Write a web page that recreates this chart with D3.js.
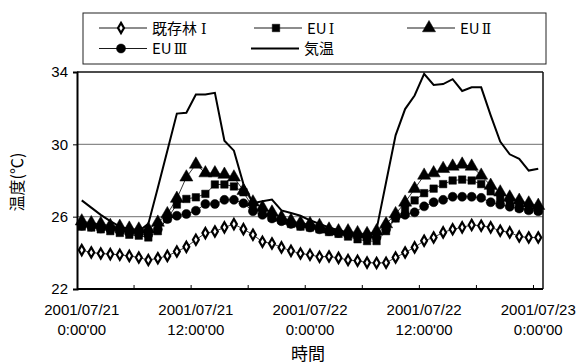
<!DOCTYPE html>
<html><head><meta charset="utf-8">
<script src="https://cdnjs.cloudflare.com/ajax/libs/d3/7.8.5/d3.min.js"></script>
<style>body{margin:0;background:#fff}svg{display:block}text{font-family:"Noto Sans CJK JP","Liberation Sans",sans-serif;fill:#000}</style>
</head><body><svg id="c" width="583" height="364"></svg>
<script>
const hours = [0,1,2,3,4,5,6,7,8,9,10,11,12,13,14,15,16,17,18,19,20,21,22,23,24,25,26,27,28,29,30,31,32,33,34,35,36,37,38,39,40,41,42,43,44,45,46,47,48];
const tickIndex = [0,12,24,36,48];
const tickDates = ["2001/07/21","2001/07/21","2001/07/22","2001/07/22","2001/07/23"];
const tickTimes = ["0:00'00","12:00'00","0:00'00","12:00'00","0:00'00"];
const yTicks = [22,26,30,34];
const kisonrin = [24.15,24.02,23.96,23.93,23.89,23.83,23.74,23.6,23.7,23.83,24.07,24.33,24.72,25.09,25.18,25.41,25.59,25.31,25.0,24.61,24.52,24.3,24.11,23.96,23.89,23.78,23.8,23.72,23.6,23.56,23.46,23.44,23.45,23.74,24.02,24.3,24.67,24.85,25.13,25.3,25.41,25.54,25.5,25.41,25.22,25.13,24.9,24.85,24.85];
const eu1 = [25.45,25.4,25.3,25.2,25.1,25.0,24.95,24.85,25.2,25.9,26.67,26.98,27.07,27.26,27.78,27.78,27.67,27.35,26.52,26.2,25.95,25.8,25.6,25.45,25.4,25.3,25.15,25.05,24.9,24.75,24.65,24.65,25.2,25.9,26.4,26.9,27.3,27.55,27.8,28.0,28.05,28.0,27.8,27.4,27.0,26.7,26.5,26.4,26.35];
const eu2 = [25.75,25.65,25.6,25.5,25.45,25.35,25.3,25.3,25.68,26.15,27.0,28.18,28.89,28.41,28.41,28.33,28.18,27.44,26.8,26.5,26.24,25.96,25.78,25.65,25.6,25.5,25.3,25.2,25.2,25.1,25.05,25.2,25.59,26.15,26.79,27.54,28.28,28.41,28.65,28.78,28.89,28.78,28.28,27.72,27.35,27.07,26.89,26.74,26.61];
const eu3 = [25.5,25.45,25.35,25.3,25.2,25.1,25.05,25.0,25.3,25.87,26.05,26.15,26.33,26.7,26.7,26.93,26.93,26.74,26.3,26.1,25.9,25.75,25.6,25.5,25.4,25.3,25.2,25.1,25.0,24.95,24.85,24.85,25.3,25.96,26.1,26.24,26.57,26.8,26.93,27.1,27.1,27.1,27.04,26.8,26.67,26.55,26.45,26.35,26.3];
const airTemp = [26.9,26.5,26.1,25.75,25.45,25.3,25.2,25.6,27.6,29.65,31.7,31.75,32.75,32.75,32.85,30.2,29.65,27.8,26.75,26.85,26.95,26.35,26.2,26.05,25.8,25.6,25.4,25.25,25.1,24.95,24.85,25.3,27.9,30.5,31.95,32.7,33.9,33.28,33.33,33.6,32.95,33.15,33.15,31.6,30.15,29.45,29.2,28.55,28.65];
const seriesBase = ["既存林","EU","EU","EU","気温"];
const seriesNum = ["Ⅰ","Ⅰ","Ⅱ","Ⅲ",""];

const svg = d3.select("#c");
const L=77,R=543,T=72,B=289;
const x = d3.scaleBand().domain(hours).range([L,R]);
const cx = h => x(h)+x.bandwidth()/2;
const y = d3.scaleLinear().domain([22,34]).range([B,T]);

svg.append("g").selectAll("line").data([26,30]).join("line")
  .attr("x1",L).attr("x2",R).attr("y1",d=>y(d)).attr("y2",d=>y(d))
  .attr("stroke","#8a8a8a").attr("stroke-width",1.2);
svg.append("line").attr("x1",L).attr("x2",R).attr("y1",y(34)).attr("y2",y(34)).attr("stroke","#111").attr("stroke-width",1.5);
svg.append("line").attr("x1",R).attr("x2",R).attr("y1",T).attr("y2",B).attr("stroke","#111").attr("stroke-width",1.5);

const yAxis = d3.axisLeft(y).tickValues(yTicks).tickSize(4).tickFormat(d3.format("d"));
const gy = svg.append("g").attr("transform",`translate(${L},0)`).call(yAxis);
gy.select(".domain").attr("stroke","#000").attr("stroke-width",2);
gy.selectAll(".tick line").attr("stroke","#000");
gy.selectAll(".tick text").attr("font-size",15).attr("x",-9).style("font-family","'Liberation Sans',sans-serif");

const gx = svg.append("g").attr("transform",`translate(0,${B})`);
gx.append("line").attr("x1",L).attr("x2",R).attr("stroke","#000").attr("stroke-width",2);
const tickBounds = hours.filter(h=>h>0 && h%6===0);
gx.selectAll("line.t").data(tickBounds).join("line").attr("class","t")
  .attr("x1",d=>x(d)).attr("x2",d=>x(d)).attr("y1",0).attr("y2",-4).attr("stroke","#000");
const lab = gx.selectAll("text.l").data(tickIndex).join("text").attr("class","l")
  .attr("text-anchor","middle").attr("font-size",15).style("font-family","'Liberation Sans',sans-serif");
lab.append("tspan").attr("x",d=>cx(d)).attr("y",26).text((d,i)=>tickDates[i]);
lab.append("tspan").attr("x",d=>cx(d)).attr("y",46).text((d,i)=>tickTimes[i]);

svg.append("text").attr("x",308).attr("y",360).attr("text-anchor","middle").attr("font-size",17).text("時間");
svg.append("text").attr("transform","translate(23,182) rotate(-90)").attr("text-anchor","middle").attr("font-size",16).text("温度(℃)");

const line = d3.line().x((d,i)=>cx(hours[i])).y(d=>y(d));
const sym = {
  dia: d3.symbol().type(d3.symbolDiamond).size(30),
  sq: d3.symbol().type(d3.symbolSquare).size(56),
  tri: d3.symbol().type(d3.symbolTriangle).size(74),
  cir: d3.symbol().type(d3.symbolCircle).size(64)
};
const series = [
  {data:kisonrin, s:"dia", open:true},
  {data:eu1, s:"sq"},
  {data:eu2, s:"tri"},
  {data:eu3, s:"cir"}
];
series.forEach(sr=>{
  svg.append("path").attr("d",line(sr.data)).attr("fill","none").attr("stroke","#000").attr("stroke-width",0.8);
  svg.append("g").selectAll("path").data(sr.data).join("path")
    .attr("transform",(d,i)=>`translate(${cx(hours[i])},${y(d)})`)
    .attr("d",sym[sr.s]())
    .attr("fill",sr.open?"#fff":"#000").attr("stroke","#000").attr("stroke-width",sr.open?2.2:0.5);
});
svg.append("path").attr("d",line(airTemp)).attr("fill","none").attr("stroke","#000").attr("stroke-width",2).attr("stroke-linejoin","miter");

const lg = svg.append("g");
lg.append("rect").attr("x",83).attr("y",13).attr("width",463).attr("height",51).attr("fill","#fff").attr("stroke","#222").attr("stroke-width",1);
const items = [
  {i:0, s:"dia", open:true, x:99, y:28},
  {i:1, s:"sq", x:254, y:28},
  {i:2, s:"tri", x:407, y:28},
  {i:3, s:"cir", x:99, y:48.5},
  {i:4, s:null, x:251, y:48.5}
];
items.forEach(it=>{
  lg.append("line").attr("x1",it.x).attr("x2",it.x+48).attr("y1",it.y).attr("y2",it.y).attr("stroke","#000").attr("stroke-width",it.s?0.9:2);
  if(it.s) lg.append("path").attr("transform",`translate(${it.x+22},${it.y})`).attr("d",sym[it.s]())
    .attr("fill",it.open?"#fff":"#000").attr("stroke","#000").attr("stroke-width",it.open?2.2:0.5);
  const t = lg.append("text").attr("x",it.x+53).attr("y",it.y+5.5).attr("font-size",15);
  t.append("tspan").text(seriesBase[it.i]);
  if(seriesNum[it.i]) t.append("tspan").attr("dx",it.i===0?4:2).style("font-family","'DejaVu Serif',serif").attr("font-size",14).text(seriesNum[it.i]);
});
</script></body></html>
